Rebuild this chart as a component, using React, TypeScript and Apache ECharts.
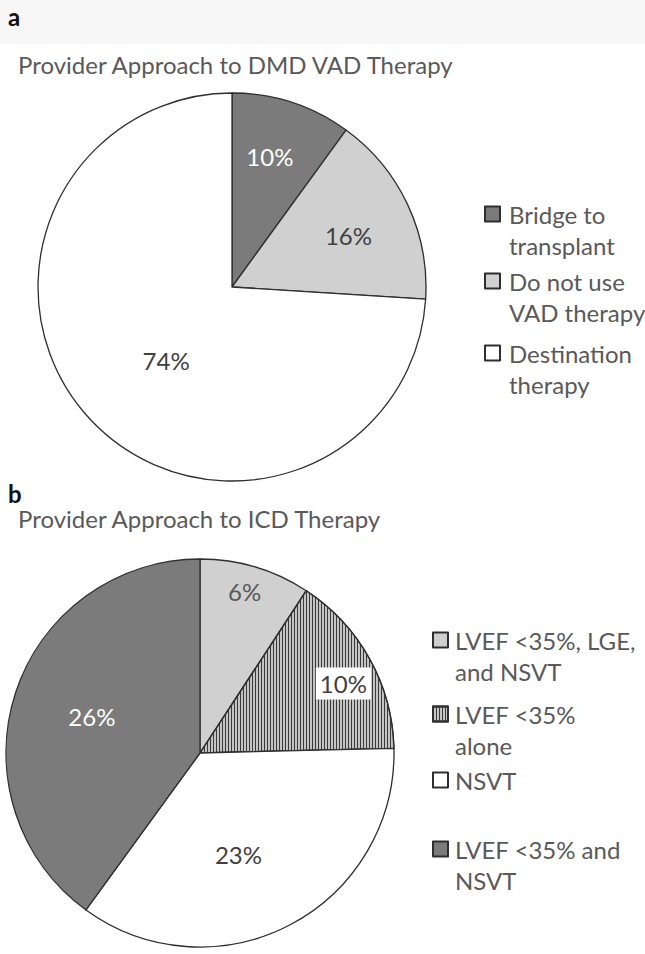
import React, { useEffect, useRef } from 'react';
import * as echarts from 'echarts';

// ---------- data ----------
const panelLabels = ['a', 'b'];
const chartTitles = ['Provider Approach to DMD VAD Therapy', 'Provider Approach to ICD Therapy'];

const vadCategories = ['Bridge to transplant', 'Do not use VAD therapy', 'Destination therapy'];
const vadLegendLabels = ['Bridge to\ntransplant', 'Do not use\nVAD therapy', 'Destination\ntherapy'];
const vadValues = [10, 16, 74];

const icdCategories = ['LVEF <35%, LGE, and NSVT', 'LVEF <35% alone', 'NSVT', 'LVEF <35% and NSVT'];
const icdLegendLabels = ['LVEF <35%, LGE,\nand NSVT', 'LVEF <35%\nalone', 'NSVT', 'LVEF <35% and\nNSVT'];
const icdValues = [6, 10, 23, 26];

// ---------- styles ----------
const FONT = 'Lato, "Open Sans", sans-serif';
const TXT = '#595959';
const DARKTXT = '#404040';
const DARK = '#7b7b7b';
const LIGHT = '#d0d0d0';
const STRIPE_BG = '#c4c4c4';
const BORDER = '#2e2e2e';
const FS = 24;
const LH = 31;

const stripeDecal = {
  symbol: 'rect',
  symbolSize: 1,
  color: '#3a3a3a',
  dashArrayX: [1, 2],
  dashArrayY: [10, 0],
  rotation: 0,
};

const vadStyles = [
  { color: DARK, labelColor: '#ffffff', offset: [7, -35] },
  { color: LIGHT, labelColor: DARKTXT, offset: [26, -9] },
  { color: '#ffffff', labelColor: DARKTXT, offset: [7, 5] },
];
const icdStyles: any[] = [
  { color: LIGHT, labelColor: TXT, offset: [16, -66] },
  { color: STRIPE_BG, labelColor: DARKTXT, offset: [56, -21], decal: stripeDecal, box: true },
  { color: '#ffffff', labelColor: DARKTXT, offset: [-8, 13] },
  { color: DARK, labelColor: '#ffffff', offset: [-13, -6] },
];

function buildData(names: string[], values: number[], styles: any[]) {
  return values.map((v, i) => {
    const s = styles[i];
    const item: any = {
      value: v,
      name: names[i],
      itemStyle: { color: s.color },
      label: { color: s.labelColor, offset: s.offset },
    };
    if (s.decal) item.itemStyle.decal = s.decal;
    if (s.box) {
      item.label.backgroundColor = '#ffffff';
      item.label.padding = [5, 4, 3, 4];
    }
    return item;
  });
}

function buildLegends(names: string[], labels: string[], left: number, centers: number[], padLeft: number) {
  return names.map((name, i) => {
    const lines = labels[i].split('\n').length;
    const shown = lines > 1 ? '\n' + labels[i] : labels[i];
    const nLines = lines > 1 ? lines + 1 : 1;
    const h = Math.max(nLines * LH, 15);
    return {
      data: [name],
      left,
      top: centers[i] - h / 2,
      orient: 'vertical',
      padding: 0,
      itemWidth: 15,
      itemHeight: 15,
      icon: 'rect',
      selectedMode: false,
      formatter: () => shown,
      textStyle: {
        fontSize: FS,
        fontFamily: FONT,
        color: TXT,
        lineHeight: LH,
        padding: [0, 0, 0, padLeft],
      },
    };
  });
}

function pieSeries(center: number[], data: any[]) {
  return {
    type: 'pie',
    center,
    radius: [0, 194],
    startAngle: 90,
    clockwise: true,
    avoidLabelOverlap: false,
    silent: true,
    emphasis: { disabled: true },
    itemStyle: { borderColor: BORDER, borderWidth: 1.3 },
    label: {
      show: true,
      position: 'inside',
      formatter: '{c}%',
      fontSize: FS,
      fontFamily: FONT,
    },
    labelLine: { show: false },
    data,
  };
}

export default function App() {
  const ref = useRef<HTMLDivElement>(null);
  useEffect(() => {
    const chart = echarts.init(ref.current!, null, { renderer: 'svg' });
    const option: any = {
      animation: false,
      backgroundColor: '#ffffff',
      graphic: [
        { type: 'rect', shape: { x: 0, y: 0, width: 645, height: 44 }, style: { fill: '#f7f7f7' }, z: -10 },
        { type: 'text', x: 8, y: 16, style: { text: panelLabels[0], font: `bold ${FS}px ${FONT}`, fill: '#111', verticalAlign: 'middle' } },
        { type: 'text', x: 18, y: 64, style: { text: chartTitles[0], font: `${FS}px ${FONT}`, fill: TXT, verticalAlign: 'middle' } },
        { type: 'text', x: 8, y: 493, style: { text: panelLabels[1], font: `bold ${FS}px ${FONT}`, fill: '#111', verticalAlign: 'middle' } },
        { type: 'text', x: 18, y: 518, style: { text: chartTitles[1], font: `${FS}px ${FONT}`, fill: TXT, verticalAlign: 'middle' } },
      ],
      legend: [
        ...buildLegends(vadCategories, vadLegendLabels, 484, [214, 281, 353], 4),
        ...buildLegends(icdCategories, icdLegendLabels, 432, [640, 714, 780, 849], 2),
      ],
      series: [
        pieSeries([232, 287], buildData(vadCategories, vadValues, vadStyles)),
        pieSeries([200, 753], buildData(icdCategories, icdValues, icdStyles)),
      ],
    };
    chart.setOption(option);
    return () => chart.dispose();
  }, []);
  return <div ref={ref} style={{ position: 'absolute', left: 0, top: 0, width: 645, height: 954 }} />;
}
